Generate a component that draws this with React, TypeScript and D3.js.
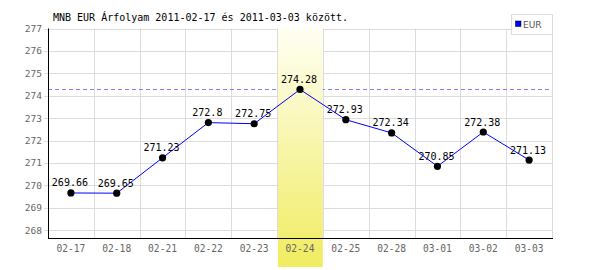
import React from "react";
import * as d3 from "d3";

const categories = ["02-17", "02-18", "02-21", "02-22", "02-23", "02-24", "02-25", "02-28", "03-01", "03-02", "03-03"];
const values = [269.66, 269.65, 271.23, 272.8, 272.75, 274.28, 272.93, 272.34, 270.85, 272.38, 271.13];
const labels = ["269.66", "269.65", "271.23", "272.8", "272.75", "274.28", "272.93", "272.34", "270.85", "272.38", "271.13"];
const yTicks = [268, 269, 270, 271, 272, 273, 274, 275, 276, 277];
const highlightCategory = "02-24";
const title = "MNB EUR Árfolyam 2011-02-17 és 2011-03-03 között.";
const seriesName = "EUR";

export default function App() {
  const W = 600, H = 270;
  const left = 48, right = 552, top = 28.5, bottom = 238;
  const x = d3.scaleBand<string>().domain(categories).range([left, right]).padding(0);
  const y = d3.scaleLinear().domain([267.65, 277]).range([bottom, top]);
  const bw = x.bandwidth();
  const maxV = d3.max(values) as number;
  const line = d3.line<number>().x((_, i) => (x(categories[i]) as number) + bw / 2).y((d) => y(d));
  const mono = "'DejaVu Sans Mono', monospace";
  const hx = x(highlightCategory) as number;
  return (
    <svg width={W} height={H} style={{ position: "absolute", left: 0, top: 0, background: "#fff" }}>
      <defs>
        <linearGradient id="hl" x1="0" y1="0" x2="0" y2="1">
          <stop offset="0" stopColor="#fffff4" />
          <stop offset="1" stopColor="#f0ec60" />
        </linearGradient>
      </defs>
      <rect x={0} y={0} width={W} height={H} fill="#fff" />
      {/* horizontal grid */}
      {yTicks.map((t) => (
        <line key={"h" + t} x1={left - 4} x2={right} y1={Math.round(y(t)) + 0.5} y2={Math.round(y(t)) + 0.5} stroke="#dcdcdc" />
      ))}
      {/* vertical grid */}
      {categories.slice(1).map((c) => (
        <line key={"v" + c} x1={Math.round(x(c) as number) + 0.5} x2={Math.round(x(c) as number) + 0.5} y1={top} y2={bottom} stroke="#dcdcdc" />
      ))}
      <line x1={right + 0.5} x2={right + 0.5} y1={top} y2={bottom} stroke="#dcdcdc" />
      {/* max dashed line */}
      <line x1={left} x2={right} y1={Math.round(y(maxV)) + 0.5} y2={Math.round(y(maxV)) + 0.5} stroke="#8080ff" strokeDasharray="4,3" />
      {/* highlight band */}
      <rect x={Math.round(hx) + 1} y={27} width={bw - 1} height={240} fill="url(#hl)" />
      {/* axes */}
      <line x1={left + 0.5} x2={left + 0.5} y1={top} y2={bottom} stroke="#000" />
      <line x1={left} x2={right + 1} y1={bottom + 0.5} y2={bottom + 0.5} stroke="#000" />
      {yTicks.map((t) => (
        <text key={"yl" + t} x={42} y={y(t) + 3.5} textAnchor="end" fontFamily={mono} fontSize={9.5} fill="#666">{t}</text>
      ))}
      {categories.map((c) => (
        <text key={"xl" + c} x={(x(c) as number) + bw / 2} y={252} textAnchor="middle" fontFamily={mono} fontSize={9.6} fill="#666">{c}</text>
      ))}
      <path d={line(values) as string} fill="none" stroke="#0000ff" strokeWidth={1} />
      {values.map((v, i) => (
        <circle key={"p" + i} cx={(x(categories[i]) as number) + bw / 2} cy={y(v)} r={3.6} fill="#000" />
      ))}
      {values.map((v, i) => (
        <text key={"dl" + i} x={(x(categories[i]) as number) + bw / 2 - 1} y={y(v) - 6.5} textAnchor="middle" fontFamily={mono} fontSize={10} fill="#000">{labels[i]}</text>
      ))}
      <text x={53} y={21} fontFamily={mono} fontSize={10} fill="#000">{title}</text>
      {/* legend */}
      <rect x={511.5} y={14.5} width={41} height={20} fill="#fff" stroke="#dcdcdc" />
      <rect x={515.5} y={21} width={5.5} height={5.5} fill="#0000ff" stroke="#000" strokeWidth={0.5} />
      <text x={523} y={27.5} fontFamily="'DejaVu Sans', sans-serif" fontSize={9} fill="#555">{seriesName}</text>
    </svg>
  );
}
